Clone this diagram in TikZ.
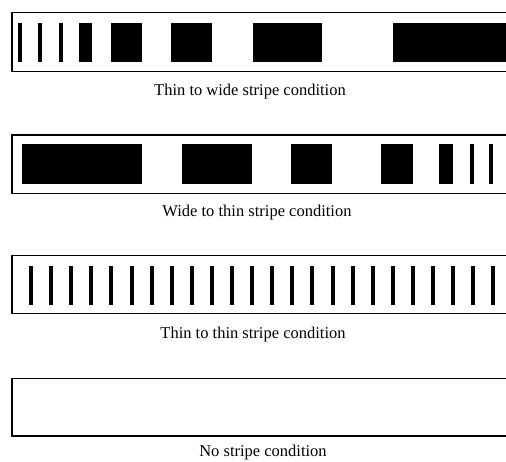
\documentclass[tikz,border=0pt]{standalone}
\usepackage{fontspec}
\setmainfont{Liberation Serif}
\begin{document}
\begin{tikzpicture}[x=1pt,y=-1pt,
  frame/.style={draw=black,line width=1.5pt},
  leftedge/.style={draw=black,line width=2.4pt},
  bar/.style={fill=black},
  caption/.style={font=\fontsize{16.5}{18}\selectfont,inner sep=0pt,anchor=base}]
\useasboundingbox (0,0) rectangle (506,461);
\begin{scope}
\clip (0,0) rectangle (506,461);
% panel 1
\draw[frame] (12,12.7) rectangle (530,71.3);
\draw[leftedge] (12,12.7) -- (12,71.3);
\foreach \a/\b in {18/22,38/42,58.5/62.5,79/92,111/142,171/212,252.7/322,393/520}
  \fill[bar] (\a,22.7) rectangle (\b,62);
% panel 2
\draw[frame] (12,135) rectangle (530,193.3);
\draw[leftedge] (12,135) -- (12,193.3);
\foreach \a/\b in {22/142,182/252,291/332,381/413,439.3/453.3,469.5/473.5,489/493}
  \fill[bar] (\a,144) rectangle (\b,184.3);
% panel 3
\draw[frame] (12,255.7) rectangle (530,313.3);
\draw[leftedge] (12,255.7) -- (12,313.3);
\foreach \k in {0,...,23}
  \fill[bar] ({29+20.1*\k},266) rectangle ({33+20.1*\k},305);
% panel 4
\draw[frame] (12,378.3) rectangle (530,436);
\draw[leftedge] (12,378.3) -- (12,436);
\end{scope}
\node[caption] (c1) at (250,95) {Thin to wide stripe condition};
\node[caption] (c2) at (257,216) {Wide to thin stripe condition};
\node[caption] (c3) at (253,338) {Thin to thin stripe condition};
\node[caption] (c4) at (263,456) {No stripe condition};
\end{tikzpicture}
\end{document}
